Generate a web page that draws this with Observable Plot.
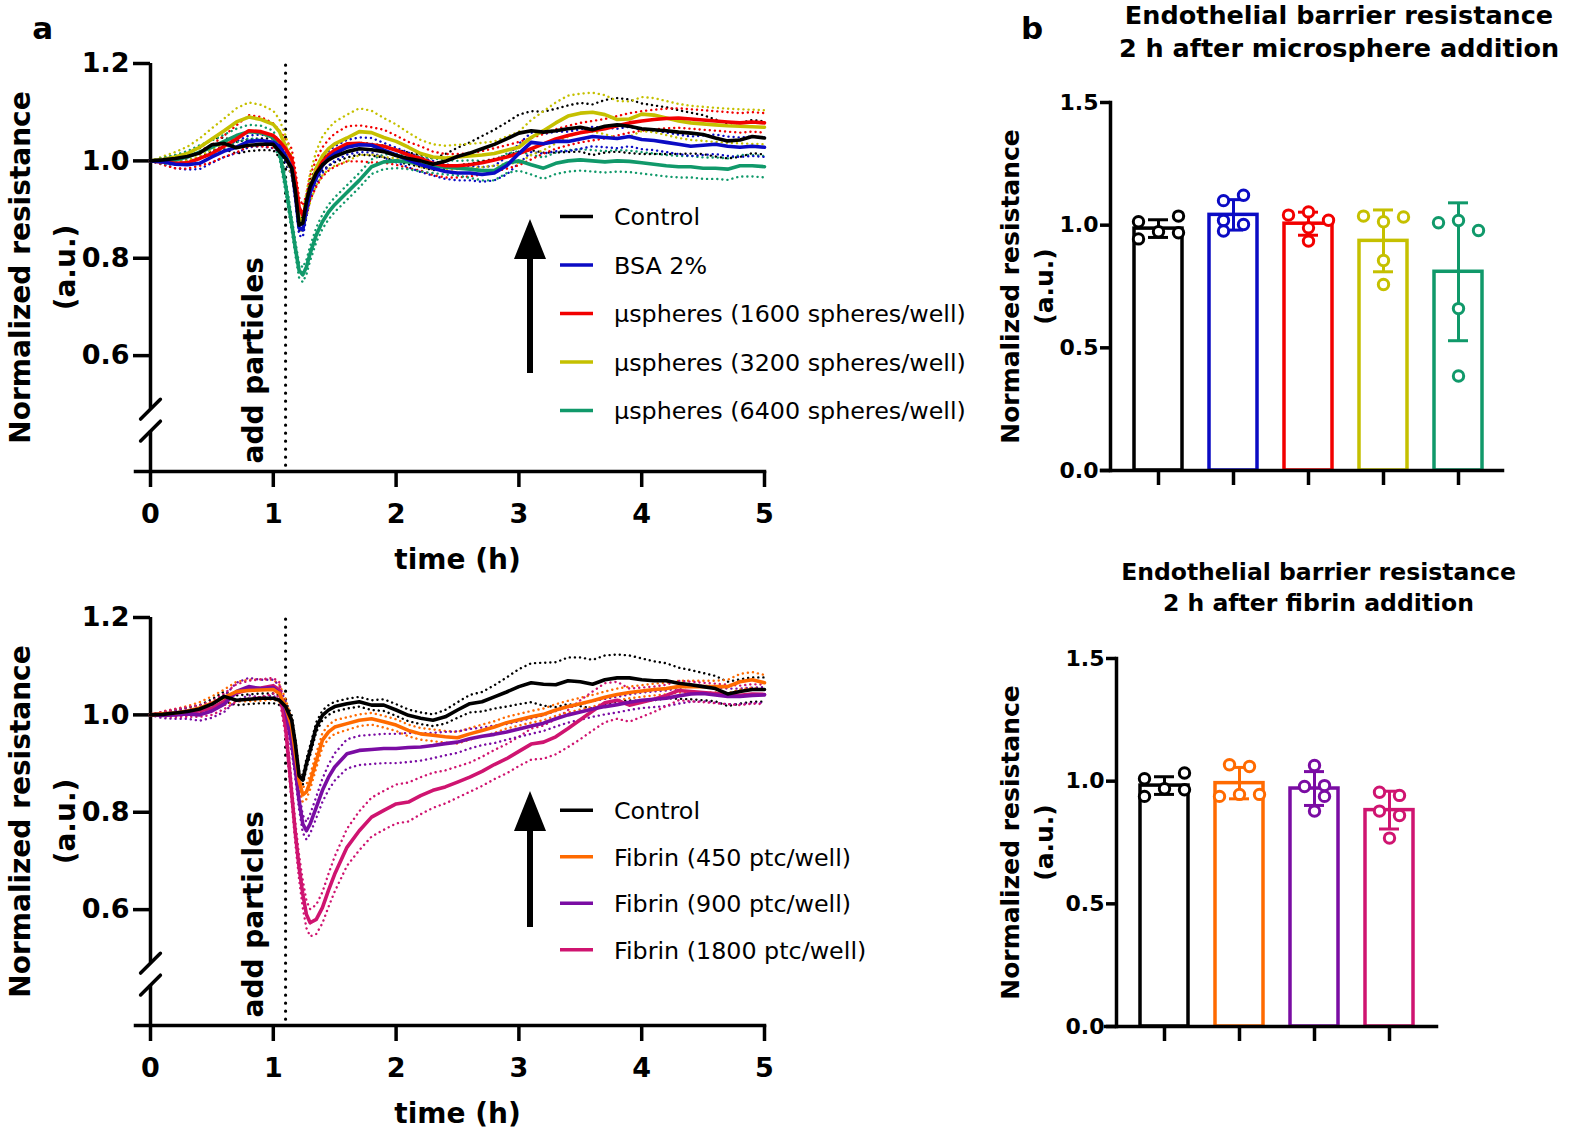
<!DOCTYPE html>
<html><head><meta charset="utf-8">
<script src="https://cdn.jsdelivr.net/npm/d3@7"></script>
<script src="https://cdn.jsdelivr.net/npm/@observablehq/plot@0.6"></script>
<style>
html,body{margin:0;padding:0;background:#fff;overflow:hidden;}
#root{position:relative;width:1594px;height:1136px;background:#fff;}
</style></head><body><div id="root"></div>
<script>
// ---------- time axis (h) shared by all traces ----------
const time = [0,0.1,0.2,0.3,0.4,0.5,0.6,0.7,0.8,0.9,1.0,
 1.05,1.1,1.15,1.18,1.21,1.24,1.27,1.3,1.35,1.4,1.45,1.5,
 1.6,1.7,1.8,1.9,2.0,2.1,2.2,2.3,2.4,2.5,2.6,2.7,2.8,2.9,3.0,
 3.1,3.2,3.3,3.4,3.5,3.6,3.7,3.8,3.9,4.0,4.1,4.2,4.3,4.4,4.5,4.6,4.7,4.8,4.9,5.0];

// ---------- panel a, top: microspheres ----------
const topNames = ["Control","BSA 2%","μspheres (1600 spheres/well)","μspheres (3200 spheres/well)","μspheres (6400 spheres/well)"];
const topControl = [1.000,1.002,1.005,1.009,1.016,1.033,1.036,1.027,1.032,1.034,1.034,
 1.019,1.005,0.985,0.937,0.868,0.872,0.916,0.947,0.975,0.992,1.002,1.009,
 1.019,1.025,1.023,1.019,1.011,1.005,1.000,0.993,0.999,1.009,1.016,1.025,1.034,1.045,1.057,
 1.062,1.059,1.062,1.066,1.069,1.064,1.071,1.074,1.071,1.066,1.064,1.062,1.059,1.057,1.054,1.047,1.041,1.043,1.050,1.047];
const topControlSD = [0.000,0.004,0.006,0.008,0.010,0.012,0.012,0.012,0.012,0.012,0.012,
 0.012,0.012,0.012,0.012,0.012,0.012,0.012,0.012,0.012,0.012,0.012,0.012,
 0.012,0.012,0.012,0.012,0.012,0.012,0.012,0.012,0.015,0.018,0.022,0.026,0.030,0.034,0.038,
 0.040,0.042,0.045,0.048,0.050,0.052,0.054,0.055,0.055,0.052,0.050,0.048,0.045,0.042,0.040,0.038,0.036,0.035,0.034,0.034];
const topBSA = [1.000,0.998,0.993,0.992,0.995,1.008,1.020,1.028,1.040,1.042,1.038,
 1.030,1.010,0.985,0.930,0.862,0.858,0.900,0.935,0.965,0.990,1.005,1.015,
 1.028,1.033,1.032,1.022,1.012,1.002,0.992,0.985,0.978,0.975,0.975,0.972,0.975,0.990,1.015,
 1.038,1.035,1.040,1.040,1.045,1.050,1.048,1.046,1.050,1.044,1.042,1.038,1.034,1.030,1.032,1.034,1.030,1.028,1.030,1.028];
const topBSASD = [0.000,0.005,0.008,0.010,0.012,0.012,0.012,0.012,0.012,0.012,0.012,
 0.012,0.012,0.014,0.015,0.015,0.015,0.015,0.015,0.015,0.015,0.015,0.015,
 0.015,0.015,0.015,0.015,0.015,0.015,0.015,0.015,0.015,0.015,0.015,0.015,0.015,0.018,0.020,
 0.020,0.020,0.020,0.020,0.020,0.020,0.020,0.020,0.020,0.020,0.020,0.020,0.020,0.020,0.020,0.020,0.020,0.020,0.020,0.020];
const top1600 = [1.000,0.998,0.995,0.996,1.005,1.015,1.030,1.045,1.062,1.060,1.052,
 1.040,1.025,1.005,0.960,0.905,0.888,0.910,0.945,0.975,0.998,1.012,1.022,
 1.035,1.036,1.033,1.030,1.022,1.012,1.005,0.995,0.990,0.990,0.992,0.996,1.002,1.008,1.015,
 1.025,1.035,1.045,1.052,1.058,1.062,1.066,1.072,1.078,1.082,1.085,1.087,1.088,1.086,1.084,1.082,1.080,1.078,1.080,1.078];
const top1600SD = [0.000,0.006,0.010,0.012,0.015,0.018,0.022,0.028,0.032,0.030,0.025,
 0.022,0.020,0.020,0.020,0.020,0.020,0.020,0.025,0.028,0.030,0.032,0.034,
 0.036,0.037,0.036,0.034,0.030,0.027,0.025,0.024,0.024,0.024,0.024,0.024,0.024,0.024,0.024,
 0.022,0.020,0.020,0.020,0.020,0.020,0.020,0.020,0.020,0.020,0.020,0.020,0.020,0.020,0.020,0.020,0.020,0.020,0.020,0.020];
const top3200 = [1.000,1.003,1.008,1.015,1.028,1.045,1.062,1.080,1.090,1.085,1.075,
 1.060,1.030,0.990,0.940,0.882,0.875,0.910,0.945,0.985,1.010,1.025,1.035,
 1.047,1.060,1.058,1.048,1.040,1.028,1.015,1.008,1.006,1.008,1.010,1.012,1.015,1.022,1.028,
 1.048,1.062,1.078,1.092,1.098,1.100,1.095,1.085,1.086,1.096,1.094,1.088,1.082,1.078,1.076,1.074,1.072,1.071,1.070,1.069];
const top3200SD = [0.000,0.006,0.010,0.014,0.018,0.022,0.025,0.028,0.030,0.030,0.028,
 0.025,0.022,0.020,0.020,0.020,0.020,0.025,0.030,0.035,0.040,0.042,0.045,
 0.048,0.048,0.045,0.040,0.035,0.030,0.028,0.026,0.025,0.025,0.025,0.025,0.025,0.028,0.032,
 0.036,0.040,0.042,0.042,0.040,0.040,0.040,0.038,0.036,0.035,0.035,0.035,0.035,0.035,0.035,0.035,0.035,0.035,0.035,0.035];
const top6400 = [1.000,1.000,1.002,1.008,1.018,1.028,1.040,1.052,1.060,1.058,1.048,
 1.020,0.950,0.870,0.820,0.775,0.766,0.782,0.810,0.848,0.875,0.895,0.910,
 0.935,0.960,0.988,0.998,1.000,0.998,0.993,0.990,0.987,0.985,0.983,0.980,0.980,0.995,1.000,
 0.992,0.985,0.995,1.000,1.002,1.000,0.998,1.000,0.999,0.996,0.993,0.990,0.988,0.988,0.985,0.985,0.983,0.990,0.990,0.988];
const top6400SD = [0.000,0.006,0.010,0.012,0.014,0.014,0.014,0.014,0.014,0.014,0.014,
 0.014,0.014,0.014,0.014,0.015,0.015,0.015,0.015,0.015,0.015,0.015,0.015,
 0.015,0.015,0.015,0.015,0.015,0.015,0.015,0.015,0.015,0.015,0.018,0.020,0.020,0.020,0.020,
 0.020,0.022,0.022,0.022,0.022,0.022,0.022,0.022,0.022,0.022,0.022,0.022,0.022,0.022,0.022,0.022,0.022,0.022,0.022,0.022];

// ---------- panel a, bottom: fibrin ----------
const botNames = ["Control","Fibrin (450 ptc/well)","Fibrin (900 ptc/well)","Fibrin (1800 ptc/well)"];
const botControl = [1.000,1.001,1.004,1.007,1.012,1.022,1.038,1.030,1.032,1.034,1.034,
 1.030,1.017,0.989,0.940,0.875,0.866,0.900,0.927,0.975,0.999,1.010,1.017,
 1.023,1.027,1.020,1.020,1.010,0.999,0.993,0.989,0.996,1.010,1.023,1.027,1.037,1.047,1.058,
 1.066,1.063,1.062,1.070,1.068,1.063,1.072,1.076,1.076,1.072,1.070,1.070,1.065,1.062,1.058,1.054,1.043,1.048,1.052,1.052];
const botControlSD = [0.000,0.004,0.006,0.008,0.008,0.010,0.010,0.010,0.010,0.010,0.010,
 0.010,0.010,0.010,0.010,0.010,0.010,0.010,0.010,0.010,0.010,0.010,0.010,
 0.010,0.010,0.010,0.012,0.012,0.012,0.012,0.012,0.014,0.016,0.018,0.020,0.024,0.030,0.036,
 0.040,0.044,0.046,0.048,0.050,0.050,0.050,0.048,0.046,0.044,0.040,0.036,0.032,0.030,0.028,0.026,0.025,0.025,0.025,0.025];
const bot450 = [1.000,1.002,1.004,1.008,1.014,1.024,1.036,1.048,1.050,1.051,1.052,
 1.044,1.017,0.975,0.920,0.865,0.836,0.842,0.862,0.906,0.948,0.965,0.975,
 0.982,0.989,0.992,0.986,0.979,0.968,0.961,0.958,0.955,0.953,0.961,0.968,0.975,0.984,0.990,
 0.996,1.001,1.010,1.017,1.023,1.029,1.036,1.042,1.046,1.049,1.052,1.054,1.058,1.058,1.058,1.058,1.058,1.068,1.072,1.066];
const bot450SD = [0.000,0.005,0.008,0.010,0.012,0.014,0.016,0.020,0.022,0.022,0.020,
 0.018,0.016,0.015,0.015,0.015,0.015,0.015,0.015,0.015,0.015,0.014,0.014,
 0.013,0.012,0.012,0.012,0.012,0.012,0.012,0.012,0.012,0.012,0.012,0.012,0.012,0.012,0.012,
 0.012,0.012,0.012,0.012,0.012,0.012,0.012,0.012,0.012,0.012,0.012,0.012,0.012,0.012,0.012,0.012,0.014,0.016,0.016,0.016];
const bot900 = [1.000,0.999,1.000,1.002,1.000,1.008,1.022,1.048,1.058,1.054,1.056,
 1.044,1.010,0.941,0.886,0.824,0.776,0.762,0.776,0.810,0.845,0.872,0.893,
 0.920,0.927,0.929,0.931,0.931,0.933,0.934,0.937,0.941,0.944,0.951,0.956,0.960,0.965,0.971,
 0.977,0.983,0.992,1.000,1.006,1.012,1.017,1.021,1.026,1.030,1.032,1.034,1.039,1.043,1.044,1.041,1.038,1.038,1.040,1.041];
const bot900SD = [0.000,0.006,0.008,0.010,0.012,0.014,0.016,0.018,0.018,0.018,0.016,
 0.016,0.016,0.016,0.018,0.018,0.018,0.018,0.020,0.022,0.024,0.026,0.028,
 0.030,0.030,0.030,0.030,0.030,0.030,0.028,0.026,0.024,0.022,0.020,0.018,0.018,0.016,0.016,
 0.016,0.016,0.016,0.016,0.016,0.016,0.016,0.016,0.016,0.016,0.016,0.016,0.016,0.016,0.016,0.016,0.016,0.016,0.016,0.016];
const bot1800 = [1.000,1.002,1.004,1.006,1.008,1.014,1.028,1.045,1.052,1.055,1.060,
 1.051,0.975,0.838,0.756,0.687,0.632,0.590,0.573,0.580,0.604,0.640,0.673,
 0.728,0.762,0.790,0.804,0.817,0.821,0.834,0.845,0.852,0.862,0.872,0.884,0.898,0.910,0.925,
 0.940,0.944,0.955,0.972,0.990,1.008,1.025,1.030,1.020,1.026,1.032,1.040,1.050,1.048,1.046,1.044,1.042,1.040,1.043,1.042];
const bot1800SD = [0.000,0.005,0.008,0.010,0.012,0.014,0.016,0.018,0.018,0.018,0.016,
 0.016,0.018,0.020,0.022,0.025,0.028,0.028,0.028,0.030,0.032,0.034,0.036,
 0.038,0.040,0.040,0.040,0.040,0.040,0.038,0.036,0.034,0.032,0.030,0.030,0.030,0.030,0.030,
 0.032,0.034,0.036,0.038,0.040,0.040,0.040,0.038,0.034,0.030,0.026,0.022,0.020,0.020,0.020,0.020,0.020,0.020,0.020,0.020];

// ---------- panel b: resistance 2 h after addition ----------
const barTopTitle = "Endothelial barrier resistance\n2 h after microsphere addition";
const barTopMean = [0.986, 1.042, 1.006, 0.936, 0.810];
const barTopSD = [0.036, 0.062, 0.047, 0.126, 0.281];
const barTopValues = [[1.014,0.944,0.973,1.037,0.969],[1.100,1.122,1.019,1.003,0.976],[1.041,1.054,1.020,0.989,0.935],[1.037,1.033,1.014,0.856,0.758],[1.010,1.019,0.978,0.660,0.385]];
const barTopSlots = [[-2,-2,0,2,2],[-1,1,-1,1,-1],[-2,0,2,0,0],[-2,2,0,0,0],[-2,0,2,0,0]];

const barBotTitle = "Endothelial barrier resistance\n2 h after fibrin addition";
const barBotMean = [0.982, 0.992, 0.970, 0.882];
const barBotSD = [0.036, 0.064, 0.069, 0.077];
const barBotValues = [[1.010,0.938,0.969,1.033,0.965],[1.067,1.060,0.938,0.946,0.946],[1.064,0.978,0.982,0.938,0.878],[0.955,0.942,0.878,0.860,0.768]];
const barBotSlots = [[-2,-2,0,2,2],[-1,1,-2,0,2],[0,-1,1,1,0],[-1,1,-1,1,0]];

const yTitle = "Normalized resistance\n(a.u.)";
const addTime = 1.1;
const yBreak = [0.445, 0.49];

// ---------- styles ----------
const topColors = ["#000000","#0b0bc4","#f20000","#c5c000","#10996a"];
const botColors = ["#000000","#ff6a00","#7a0ca3","#cf1470"];
const FONT = "DejaVu Sans";

function timeChart(names, colors, means, sds) {
  const yMin = 0.362, yMax = 1.2;
  const rows = names.flatMap((name, k) => time.map((t, i) => ({name, t, v: means[k][i], sd: sds[k][i]})));
  const rowsTopLast = names.slice().reverse().flatMap(name => rows.filter(r => r.name === name));
  const slash = {draw(ctx, l) { ctx.moveTo(0, 0); ctx.lineTo(0, -l); }};
  const breakMark = typeof Plot.spike === "function"
    ? Plot.vector(yBreak, {x: () => 0, y: d => d, length: 28, rotate: 45, anchor: "middle", shape: slash, stroke: "black", strokeWidth: 3.5})
    : Plot.text(yBreak, {x: () => 0, y: d => d, text: () => "|", rotate: 45, fontSize: 26});
  const band = {x: "t", z: "name", stroke: "name", strokeWidth: 2.4, strokeDasharray: "0.1,5", strokeLinecap: "round"};
  return Plot.plot({
    width: 800, height: 580, marginLeft: 150, marginRight: 36, marginTop: 63, marginBottom: 109,
    x: {domain: [0, 5]},
    y: {domain: [yMin, yMax]},
    color: {domain: names, range: colors},
    style: {fontFamily: FONT, fontSize: "27px", fontWeight: "bold", color: "black", background: "transparent"},
    marks: [
      Plot.ruleX([0], {y1: yMin, y2: yBreak[0], strokeWidth: 3.5}),
      Plot.ruleX([0], {y1: yBreak[1], y2: yMax, strokeWidth: 3.5}),
      breakMark,
      Plot.frame({anchor: "bottom", insetLeft: -15, strokeWidth: 3.5}),
      Plot.axisX({ticks: [0,1,2,3,4,5], tickSize: 16, tickPadding: 16, strokeWidth: 3.5, label: null, tickFormat: d => String(d)}),
      Plot.axisY({ticks: [0.6,0.8,1.0,1.2], tickSize: 17, tickPadding: 4, strokeWidth: 3.5, label: null, tickFormat: d => d.toFixed(1)}),
      Plot.ruleX([addTime], {x: d => d, y1: 0.374, y2: 1.205, stroke: "black", strokeWidth: 3.2, strokeDasharray: "0,8", strokeLinecap: "round"}),
      Plot.text([addTime], {x: d => d, frameAnchor: "bottom", text: () => "add particles", rotate: -90, textAnchor: "start", lineAnchor: "middle", dx: -31.5, dy: -8, fontSize: 28, fontWeight: "bold"}),
      Plot.line(rows, {...band, y: d => d.v + d.sd}),
      Plot.line(rows, {...band, y: d => d.v - d.sd}),
      Plot.line(rowsTopLast, {x: "t", y: "v", z: "name", stroke: "name", strokeWidth: 3.6, strokeLinejoin: "round"}),
      Plot.text([yTitle], {text: d => d, frameAnchor: "left", textAnchor: "middle", lineAnchor: "middle", dx: -112, rotate: -90, fontSize: 28, fontWeight: "bold", lineHeight: 1.6}),
      Plot.text(["time (h)"], {text: d => d, frameAnchor: "bottom", textAnchor: "middle", lineAnchor: "middle", dy: 89, fontSize: 28, fontWeight: "bold"})
    ]
  });
}

function barChart(groups, colors, means, sds, values, slots, title, m) {
  const bars = groups.map((g, i) => ({g, mean: means[i], sd: sds[i]}));
  const pts = groups.flatMap((g, i) => values[i].map((v, j) => ({g, v, slot: slots[i][j]})));
  const slotVals = [-2, -1, 0, 1, 2];
  const ptStyle = {x: "g", y: "v", r: 5.2, fill: "white", stroke: "g", strokeWidth: 3};
  return Plot.plot({
    width: 600, height: 520, marginLeft: m.left, marginRight: m.right, marginTop: 102, marginBottom: 50,
    x: {type: "band", domain: groups, paddingInner: 0.366, paddingOuter: 0.31},
    y: {domain: [0, 1.5]},
    color: {domain: groups, range: colors},
    style: {fontFamily: FONT, fontSize: "22px", fontWeight: "bold", color: "black", background: "transparent"},
    marks: [
      Plot.barY(bars, {x: "g", y: "mean", fill: "white", stroke: "g", strokeWidth: 3.5}),
      Plot.ruleX(bars, {x: "g", y1: d => d.mean - d.sd, y2: d => d.mean + d.sd, stroke: "g", strokeWidth: 3}),
      Plot.tickY(bars, {x: "g", y: d => d.mean + d.sd, stroke: "g", strokeWidth: 3, inset: 14}),
      Plot.tickY(bars, {x: "g", y: d => d.mean - d.sd, stroke: "g", strokeWidth: 3, inset: 14}),
      ...slotVals.map(s => Plot.dot(pts.filter(p => p.slot === s), {...ptStyle, dx: s * 10})),
      Plot.frame({anchor: "left", strokeWidth: 3.5}),
      Plot.frame({anchor: "bottom", insetLeft: m.insetLeft, insetRight: m.insetRight, strokeWidth: 3.5}),
      Plot.axisY({ticks: [0, 0.5, 1, 1.5], tickSize: 10, tickPadding: 2, strokeWidth: 3.5, label: null, tickFormat: d => d.toFixed(1)}),
      Plot.axisX({tickSize: 15, strokeWidth: 3.5, label: null, tickFormat: () => ""}),
      Plot.text([yTitle], {text: d => d, frameAnchor: "left", textAnchor: "middle", lineAnchor: "middle", dx: 35 - m.left, rotate: -90, fontSize: 25, fontWeight: "bold", lineHeight: 1.36}),
      Plot.text([title], {text: d => d, frameAnchor: "top", textAnchor: "middle", lineAnchor: "middle", dx: m.titleDx, dy: -73, fontSize: m.titleSize, fontWeight: "bold", lineHeight: 1.3})
    ]
  });
}

const root = document.getElementById("root");
function place(el, left, top) {
  el.style.position = "absolute";
  el.style.left = left + "px";
  el.style.top = top + "px";
  el.style.background = "transparent";
  el.style.maxWidth = "none";
  root.appendChild(el);
}

place(timeChart(topNames, topColors, [topControl, topBSA, top1600, top3200, top6400],
  [topControlSD, topBSASD, top1600SD, top3200SD, top6400SD]), 0, 0);
place(timeChart(botNames, botColors, [botControl, bot450, bot900, bot1800],
  [botControlSD, bot450SD, bot900SD, bot1800SD]), 0, 554);
place(barChart(topNames, topColors, barTopMean, barTopSD, barTopValues, barTopSlots, barTopTitle,
  {left: 120, right: 85, insetLeft: -9, insetRight: 3, titleDx: 31, titleSize: 25.5}), 990, 0);
place(barChart(botNames, botColors, barBotMean, barBotSD, barBotValues, barBotSlots, barBotTitle,
  {left: 126, right: 154, insetLeft: -11, insetRight: 0, titleDx: 42, titleSize: 23.5}), 990, 556);

// ---------- overlay: panel letters, legends, arrows ----------
const ov = d3.create("svg").attr("width", 1594).attr("height", 1136)
  .style("position", "absolute").style("left", "0px").style("top", "0px")
  .style("font-family", FONT);
ov.append("text").attr("x", 42.7).attr("y", 38.6).attr("text-anchor", "middle")
  .attr("font-size", 31).attr("font-weight", "bold").text("a");
ov.append("text").attr("x", 1032).attr("y", 38.6).attr("text-anchor", "middle")
  .attr("font-size", 31).attr("font-weight", "bold").text("b");

function legend(names, colors, y0, step, arrowTop, arrowBottom) {
  const g = ov.append("g");
  g.append("path").attr("d", `M530,${arrowTop} L546,${arrowTop + 40} L514,${arrowTop + 40} Z`).attr("fill", "black");
  g.append("rect").attr("x", 527).attr("y", arrowTop + 36).attr("width", 6).attr("height", arrowBottom - arrowTop - 36).attr("fill", "black");
  names.forEach((n, i) => {
    const y = y0 + i * step;
    g.append("line").attr("x1", 560).attr("x2", 593).attr("y1", y).attr("y2", y)
      .attr("stroke", colors[i]).attr("stroke-width", 3.5);
    g.append("text").attr("x", 614).attr("y", y + 8.8).attr("font-size", 23.8).text(n);
  });
}
legend(topNames, topColors, 216.5, 48.5, 219, 373);
legend(botNames, botColors, 810.2, 46.5, 791, 927);
root.appendChild(ov.node());
</script></body></html>
